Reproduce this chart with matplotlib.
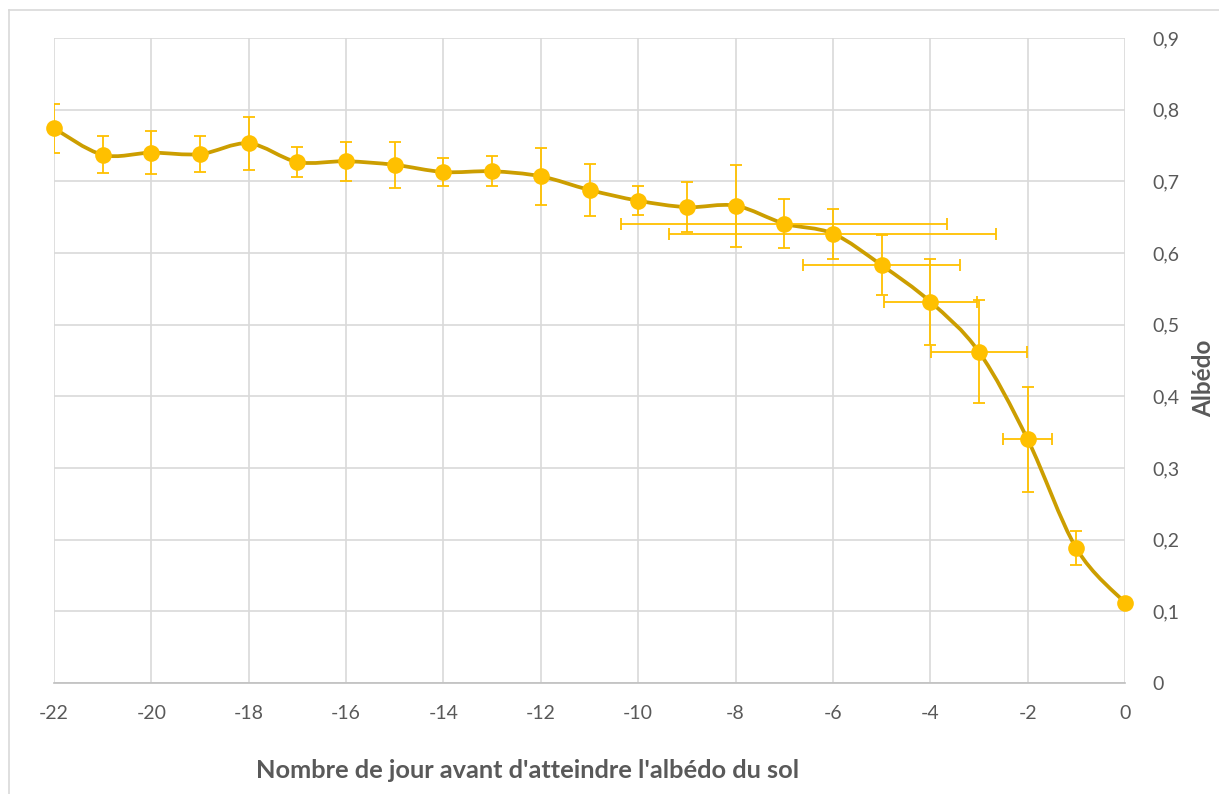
import numpy as np
import matplotlib
matplotlib.use('Agg')
from matplotlib import pyplot as plt
from matplotlib.path import Path
from matplotlib.patches import PathPatch
from matplotlib.lines import Line2D
from matplotlib.ticker import FuncFormatter

plt.rcParams['font.family'] = ['Lato', 'DejaVu Sans']
plt.rcParams['axes.unicode_minus'] = False

days = [-22, -21, -20, -19, -18, -17, -16, -15, -14, -13, -12,
        -11, -10, -9, -8, -7, -6, -5, -4, -3, -2, -1, 0]
albedo = [0.774, 0.737, 0.740, 0.738, 0.753, 0.727, 0.728, 0.723, 0.713, 0.714, 0.707,
          0.688, 0.673, 0.664, 0.666, 0.641, 0.627, 0.583, 0.532, 0.462, 0.340, 0.188, 0.112]
albedo_err = [0.034, 0.026, 0.030, 0.025, 0.037, 0.021, 0.027, 0.032, 0.020, 0.021, 0.040,
              0.036, 0.020, 0.035, 0.057, 0.034, 0.035, 0.042, 0.060, 0.072, 0.073, 0.024, 0.0]
days_err = [0, 0, 0, 0, 0, 0, 0, 0, 0, 0, 0,
            0, 0, 0, 0, 3.35, 3.36, 1.62, 0.96, 0.98, 0.50, 0, 0]

line_col = '#CC9E00'
mark_col = '#FFC000'
text_col = '#595959'
grid_col = '#D9D9D9'

fig = plt.figure(figsize=(12.19, 7.94), dpi=100)
ax = fig.add_axes([54 / 1219, 1 - 683 / 794, 1071 / 1219, 645 / 794])

# chart border (top and left edges visible)
fig.add_artist(Line2D([8.5 / 1219, 8.5 / 1219], [0, 1 - 9.5 / 794], transform=fig.transFigure,
                      color='#D9D9D9', lw=1.2))
fig.add_artist(Line2D([8.5 / 1219, 1], [1 - 9.5 / 794, 1 - 9.5 / 794], transform=fig.transFigure,
                      color='#D9D9D9', lw=1.2))


def smooth_path(xs, ys):
    # Catmull-Rom style cubic Bezier through the points, like a spreadsheet "smoothed line"
    pts = np.column_stack([xs, ys]).astype(float)
    verts = [pts[0]]
    codes = [Path.MOVETO]
    n = len(pts)
    for i in range(n - 1):
        p0 = pts[i - 1] if i > 0 else pts[i]
        p1 = pts[i]
        p2 = pts[i + 1]
        p3 = pts[i + 2] if i + 2 < n else pts[i + 1]
        c1 = p1 + (p2 - p0) / 6.0
        c2 = p2 - (p3 - p1) / 6.0
        verts += [c1, c2, p2]
        codes += [Path.CURVE4] * 3
    return Path(verts, codes)


ax.add_patch(PathPatch(smooth_path(days, albedo), facecolor='none', edgecolor=line_col,
                       lw=2.7, zorder=3, capstyle='round', joinstyle='round', clip_on=False))

ax.errorbar(days, albedo, yerr=albedo_err, fmt='none', ecolor=mark_col,
            elinewidth=1.3, capsize=4.5, capthick=1.3, zorder=4)
xe_idx = [i for i, v in enumerate(days_err) if v > 0]
ax.errorbar([days[i] for i in xe_idx], [albedo[i] for i in xe_idx],
            xerr=[days_err[i] for i in xe_idx], fmt='none', ecolor=mark_col,
            elinewidth=1.3, capsize=4.5, capthick=1.3, zorder=4)
ax.plot(days, albedo, 'o', color=mark_col, markersize=12, markeredgewidth=0, zorder=5,
        clip_on=False)

ax.set_xlim(-22, 0)
ax.set_ylim(0, 0.9)
ax.set_xticks(np.arange(-22, 1, 2))
ax.set_yticks(np.arange(0, 0.91, 0.1))
ax.yaxis.set_major_formatter(FuncFormatter(lambda v, p: '0' if abs(v) < 1e-9 else f'{v:.1f}'.replace('.', ',')))
ax.yaxis.tick_right()
ax.yaxis.set_label_position('right')
ax.grid(True, color=grid_col, lw=1.2)
ax.set_axisbelow(True)
for side in ['top', 'left', 'right']:
    ax.spines[side].set_visible(False)
ax.spines['bottom'].set_color('#BFBFBF')
ax.spines['bottom'].set_linewidth(1.2)
ax.tick_params(axis='both', length=0, labelsize=14, colors=text_col)
ax.tick_params(axis='x', pad=16)
ax.tick_params(axis='y', pad=20)
for lab in ax.get_yticklabels():
    lab.set_horizontalalignment('left')

fig.text(528 / 1219, 1 - 770 / 794, "Nombre de jour avant d'atteindre l'albédo du sol",
         ha='center', va='center', fontsize=18.3, fontweight='bold', color=text_col)
fig.text(1204 / 1219, 1 - 378 / 794, 'Albédo', ha='center', va='center', rotation=90,
         fontsize=17.5, fontweight='bold', color=text_col)

fig.savefig('out.png', dpi=100)
